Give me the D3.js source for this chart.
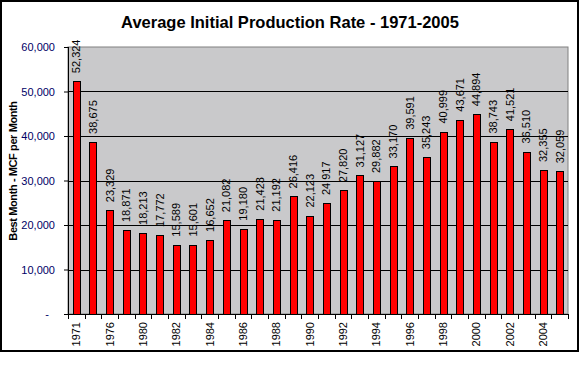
<!DOCTYPE html>
<html>
<head>
<meta charset="utf-8">
<script src="https://cdn.jsdelivr.net/npm/d3@7"></script>
<style>
  body { margin: 0; background: #fff; }
  text { font-family: Arial, "Liberation Sans", sans-serif; }
</style>
</head>
<body>
<div id="chart"></div>
<script>
// chart data
var years = ["1971", "1974", "1976", "1978", "1980", "1981", "1982", "1983", "1984", "1985",
  "1986", "1987", "1988", "1989", "1990", "1991", "1992", "1993", "1994", "1995",
  "1996", "1997", "1998", "1999", "2000", "2001", "2002", "2003", "2004", "2005"];
var rates = [52324, 38675, 23329, 18871, 18213, 17772, 15589, 15601, 16652, 21082,
  19180, 21423, 21192, 26416, 22123, 24917, 27820, 31127, 29882, 33170,
  39591, 35243, 40999, 43671, 44894, 38743, 41521, 36510, 32355, 32059];
var yTicks = [0, 10000, 20000, 30000, 40000, 50000, 60000];
// only every other year gets a label on the axis
var shownYears = years.filter((d, i) => i % 2 === 0);

var svgWidth = 580;
var svgHeight = 368;

var margin = {
  top: 47,
  right: 12,
  bottom: 54,
  left: 68
};

var chartWidth = svgWidth - margin.left - margin.right;
var chartHeight = svgHeight - margin.top - margin.bottom;

var svg = d3.select("#chart").append("svg")
  .attr("width", svgWidth)
  .attr("height", svgHeight);

// outer frame
svg.append("rect")
  .attr("x", 1)
  .attr("y", 1)
  .attr("width", 577)
  .attr("height", 350)
  .attr("fill", "#fff")
  .attr("stroke", "#000")
  .attr("stroke-width", 2);

var chartGroup = svg.append("g")
  .attr("transform", `translate(${margin.left}, ${margin.top})`);

var xBandScale = d3.scaleBand()
  .domain(years)
  .range([0, chartWidth])
  .paddingInner(0.58)
  .paddingOuter(0.29);

var yLinearScale = d3.scaleLinear()
  .domain([0, 60000])
  .range([chartHeight, 0]);

// plot background
chartGroup.append("rect")
  .attr("width", chartWidth)
  .attr("height", chartHeight)
  .attr("fill", "#c9c9cb")
  .attr("stroke", "#808080");

// gridlines
chartGroup.selectAll(".grid")
  .data(yTicks.slice(1, -1))
  .enter()
  .append("line")
  .attr("x1", 0)
  .attr("x2", chartWidth)
  .attr("y1", d => Math.round(yLinearScale(d)) + 0.5)
  .attr("y2", d => Math.round(yLinearScale(d)) + 0.5)
  .attr("stroke", "#000");

// bars
chartGroup.selectAll(".bar")
  .data(rates)
  .enter()
  .append("rect")
  .attr("x", (d, i) => Math.round(xBandScale(years[i])) + 0.5)
  .attr("y", d => Math.round(yLinearScale(d)) + 0.5)
  .attr("width", Math.round(xBandScale.bandwidth()))
  .attr("height", d => chartHeight - Math.round(yLinearScale(d)))
  .attr("fill", "#ff0000")
  .attr("stroke", "#000");

// value labels
var fmt = d3.format(",");
chartGroup.selectAll(".val")
  .data(rates)
  .enter()
  .append("text")
  .attr("transform", (d, i) => {
    var cx = xBandScale(years[i]) + xBandScale.bandwidth() / 2 + 4;
    var cy = yLinearScale(d) - 8;
    return `translate(${cx}, ${cy}) rotate(-90)`;
  })
  .attr("font-size", "11px")
  .attr("fill", "#000")
  .text(d => fmt(d));

// axes
var xAxis = d3.axisBottom(xBandScale)
  .tickValues(shownYears)
  .tickSize(0)
  .tickPadding(0);

var xAxisGroup = chartGroup.append("g")
  .attr("transform", `translate(0, ${chartHeight})`)
  .call(xAxis);
xAxisGroup.select(".domain").attr("stroke", "#000").attr("d", `M0,0.5H${chartWidth}`);
xAxisGroup.selectAll("text")
  .attr("font-size", "11px")
  .attr("fill", "#000")
  .attr("text-anchor", "end")
  .attr("dy", null)
  .attr("transform", "translate(4, 8) rotate(-90)");

// tick marks sit on the category boundaries
chartGroup.selectAll(".xtick")
  .data(d3.range(years.length + 1))
  .enter()
  .append("line")
  .attr("x1", i => Math.round(i * chartWidth / years.length) + 0.5)
  .attr("x2", i => Math.round(i * chartWidth / years.length) + 0.5)
  .attr("y1", chartHeight)
  .attr("y2", chartHeight + 5)
  .attr("stroke", "#000");

var yAxis = d3.axisLeft(yLinearScale)
  .tickValues(yTicks)
  .tickSize(4)
  .tickPadding(9)
  .tickFormat(d => d === 0 ? "-  " : fmt(d));

var yAxisGroup = chartGroup.append("g")
  .call(yAxis);
yAxisGroup.select(".domain").attr("stroke", "#000").attr("d", `M0.5,0V${chartHeight}`);
yAxisGroup.selectAll("line").attr("stroke", "#000");
yAxisGroup.selectAll("text")
  .attr("font-size", "11px")
  .attr("fill", "#000066")
  .style("white-space", "pre");

// titles
svg.append("text")
  .attr("x", 290)
  .attr("y", 28)
  .attr("text-anchor", "middle")
  .attr("font-size", "16.5px")
  .attr("font-weight", "bold")
  .text("Average Initial Production Rate - 1971-2005");

svg.append("text")
  .attr("transform", "translate(17, 171) rotate(-90)")
  .attr("text-anchor", "middle")
  .attr("font-size", "11px")
  .attr("font-weight", "bold")
  .attr("letter-spacing", "-0.4px")
  .text("Best Month - MCF per Month");
</script>
</body>
</html>
